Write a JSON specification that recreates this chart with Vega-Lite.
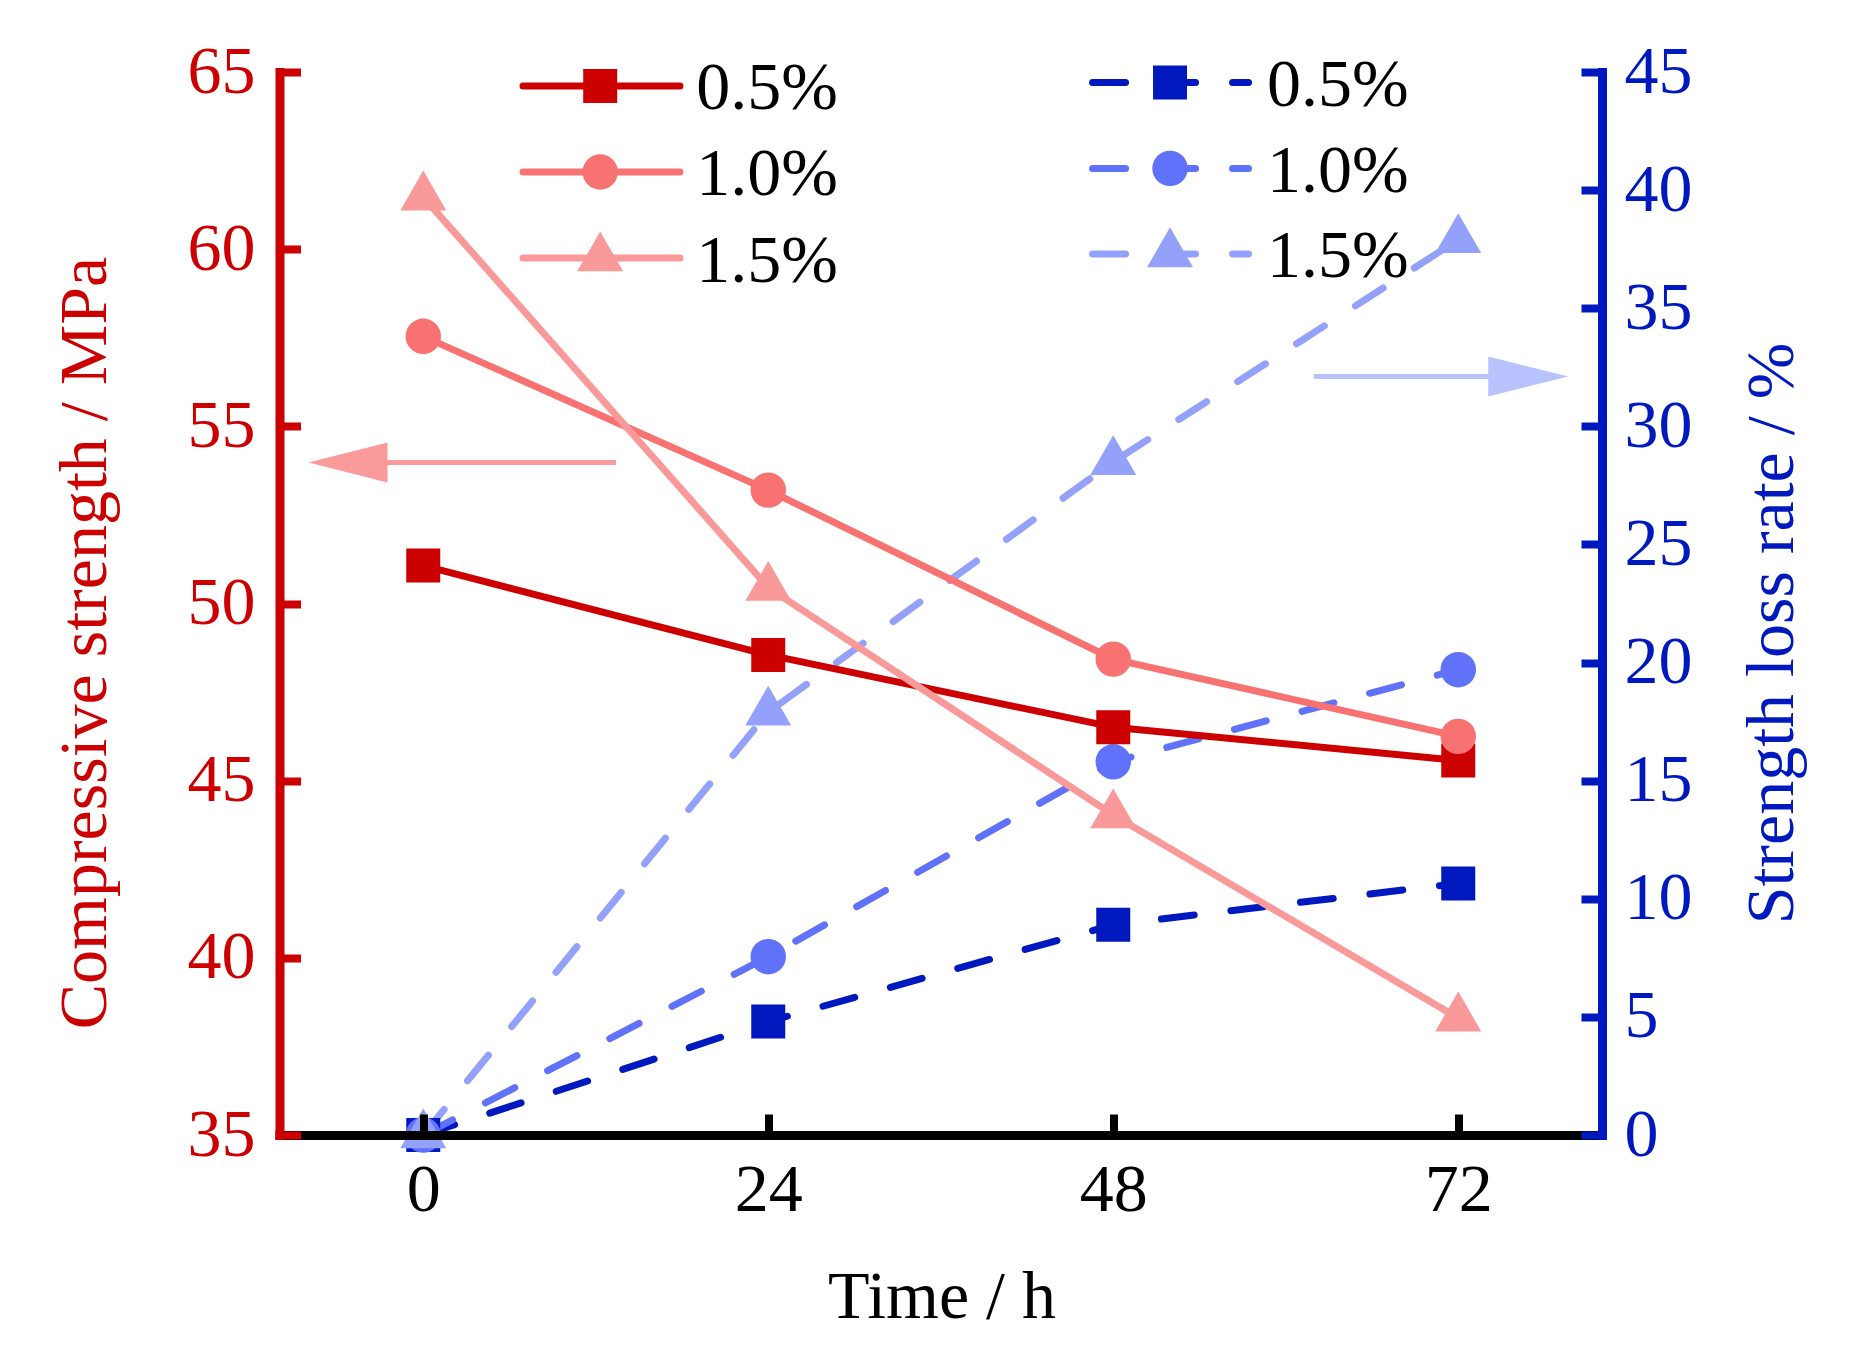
{
  "$schema": "https://vega.github.io/schema/vega-lite/v6.json",
  "width": 1322.5,
  "height": 1063,
  "autosize": {"type": "none"},
  "padding": {"left": 279.5, "top": 72, "right": 252, "bottom": 214},
  "background": "white",
  "config": {"view": {"stroke": null}, "font": "Liberation Serif"},
  "datasets": {
    "pts": [
      {"series": "S0.5", "kind": "S", "role": "data", "t": 0, "v": 51.07},
      {"series": "S0.5", "kind": "S", "role": "data", "t": 24, "v": 48.55},
      {"series": "S0.5", "kind": "S", "role": "data", "t": 48, "v": 46.51},
      {"series": "S0.5", "kind": "S", "role": "data", "t": 72, "v": 45.57},
      {"series": "S1.0", "kind": "S", "role": "data", "t": 0, "v": 57.54},
      {"series": "S1.0", "kind": "S", "role": "data", "t": 24, "v": 53.2},
      {"series": "S1.0", "kind": "S", "role": "data", "t": 48, "v": 48.43},
      {"series": "S1.0", "kind": "S", "role": "data", "t": 72, "v": 46.25},
      {"series": "S1.5", "kind": "S", "role": "data", "t": 0, "v": 61.47},
      {"series": "S1.5", "kind": "S", "role": "data", "t": 24, "v": 50.45},
      {"series": "S1.5", "kind": "S", "role": "data", "t": 48, "v": 44.03},
      {"series": "S1.5", "kind": "S", "role": "data", "t": 72, "v": 38.3},
      {"series": "L0.5", "kind": "L", "role": "data", "t": 0, "v": 0},
      {"series": "L0.5", "kind": "L", "role": "data", "t": 24, "v": 4.8},
      {"series": "L0.5", "kind": "L", "role": "data", "t": 48, "v": 8.9},
      {"series": "L0.5", "kind": "L", "role": "data", "t": 72, "v": 10.65},
      {"series": "L1.0", "kind": "L", "role": "data", "t": 0, "v": 0},
      {"series": "L1.0", "kind": "L", "role": "data", "t": 24, "v": 7.55},
      {"series": "L1.0", "kind": "L", "role": "data", "t": 48, "v": 15.8},
      {"series": "L1.0", "kind": "L", "role": "data", "t": 72, "v": 19.7},
      {"series": "L1.5", "kind": "L", "role": "data", "t": 0, "v": 0},
      {"series": "L1.5", "kind": "L", "role": "data", "t": 24, "v": 17.9},
      {"series": "L1.5", "kind": "L", "role": "data", "t": 48, "v": 28.5},
      {"series": "L1.5", "kind": "L", "role": "data", "t": 72, "v": 37.9},
      {"series": "S0.5", "kind": "S", "role": "legend", "t": 12.31, "v": 64.605},
      {"series": "S1.0", "kind": "S", "role": "legend", "t": 12.31, "v": 62.18},
      {"series": "S1.5", "kind": "S", "role": "legend", "t": 12.31, "v": 59.75},
      {"series": "L0.5", "kind": "L", "role": "legend", "t": 51.95, "v": 44.56},
      {"series": "L1.0", "kind": "L", "role": "legend", "t": 51.95, "v": 40.92},
      {"series": "L1.5", "kind": "L", "role": "legend", "t": 51.95, "v": 37.3}
    ],
    "leglines": [
      {"series": "S0.5", "kind": "S", "t": 6.94, "t2": 17.86, "v": 64.605},
      {"series": "S1.0", "kind": "S", "t": 6.94, "t2": 17.86, "v": 62.18},
      {"series": "S1.5", "kind": "S", "t": 6.94, "t2": 17.86, "v": 59.75},
      {"series": "L0.5", "kind": "L", "t": 46.56, "t2": 57.41, "v": 44.56},
      {"series": "L1.0", "kind": "L", "t": 46.56, "t2": 57.41, "v": 40.92},
      {"series": "L1.5", "kind": "L", "t": 46.56, "t2": 57.41, "v": 37.3}
    ],
    "legtext": [
      {"kind": "S", "label": "0.5%", "t": 18.99, "v": 64.605},
      {"kind": "S", "label": "1.0%", "t": 18.99, "v": 62.18},
      {"kind": "S", "label": "1.5%", "t": 18.99, "v": 59.75},
      {"kind": "L", "label": "0.5%", "t": 58.7, "v": 44.56},
      {"kind": "L", "label": "1.0%", "t": 58.7, "v": 40.92},
      {"kind": "L", "label": "1.5%", "t": 58.7, "v": 37.3}
    ],
    "arrows": [
      {"kind": "S", "t": 13.41, "t2": -5.2, "th": -5.235, "v": 53.98},
      {"kind": "L", "t": 61.95, "t2": 76.8, "th": 76.87, "v": 32.11}
    ]
  },
  "layer": [
    {
      "encoding": {
        "x": {
          "field": "t", "type": "quantitative",
          "scale": {"domain": [-10, 82], "nice": false, "zero": false},
          "axis": {
            "orient": "bottom", "values": [0, 24, 48, 72], "grid": false,
            "domainColor": "black", "domainWidth": 9, "domainCap": "square",
            "tickColor": "black", "tickWidth": 8, "tickSize": -21,
            "labelFont": "Liberation Serif", "labelFontSize": 68, "labelColor": "black",
            "labelPadding": 42.3, "labelFlush": false, "labelOverlap": false,
            "title": "Time / h", "titleFont": "Liberation Serif", "titleFontSize": 68,
            "titleFontWeight": "normal", "titleColor": "black",
            "titleX": 662, "titleY": 182, "titleAlign": "center", "titleBaseline": "alphabetic",
            "zindex": 1
          }
        },
        "y": {
          "field": "v", "type": "quantitative",
          "scale": {"domain": [0, 45], "nice": false, "zero": false},
          "axis": {
            "orient": "right", "values": [0, 5, 10, 15, 20, 25, 30, 35, 40, 45], "grid": false,
            "domainColor": "#0019BE", "domainWidth": 9, "domainCap": "square",
            "tickColor": "#0019BE", "tickWidth": 8, "tickSize": -21,
            "labelFont": "Liberation Serif", "labelFontSize": 68, "labelColor": "#0019BE",
            "labelPadding": 43, "labelFlush": false, "labelOverlap": false,
            "title": "Strength loss rate / %", "titleFont": "Liberation Serif", "titleFontSize": 68,
            "titleFontWeight": "normal", "titleColor": "#0019BE", "titleAngle": 270,
            "titleX": 190.7, "titleY": 561, "titleAlign": "center", "titleBaseline": "alphabetic",
            "zindex": 1
          }
        }
      },
      "layer": [
        {
          "data": {"name": "pts"},
          "transform": [{"filter": "datum.kind == 'L' && datum.role == 'data'"}],
          "mark": {"type": "line", "strokeWidth": 7, "strokeDash": [33, 37], "strokeCap": "round", "strokeJoin": "round"},
          "encoding": {
            "color": {"field": "series", "type": "nominal", "legend": null,
              "scale": {"domain": ["S0.5", "S1.0", "S1.5", "L0.5", "L1.0", "L1.5"], "range": ["#CC0000", "#F87272", "#FA9999", "#0019BE", "#6072FA", "#93A1FA"]}},
            "detail": {"field": "series"}
          }
        },
        {
          "data": {"name": "leglines"},
          "transform": [{"filter": "datum.kind == 'L'"}],
          "mark": {"type": "rule", "strokeWidth": 7, "strokeDash": [33, 37], "strokeCap": "round"},
          "encoding": {
            "x2": {"field": "t2"},
            "color": {"field": "series", "type": "nominal", "legend": null}
          }
        },
        {
          "data": {"name": "pts"},
          "transform": [{"filter": "datum.series == 'L0.5'"}],
          "mark": {"type": "point", "filled": true, "shape": "square", "size": 1156, "opacity": 1},
          "encoding": {"color": {"field": "series", "type": "nominal", "legend": null}}
        },
        {
          "data": {"name": "pts"},
          "transform": [{"filter": "datum.series == 'L1.0'"}],
          "mark": {"type": "point", "filled": true, "shape": "circle", "size": 1257, "opacity": 1},
          "encoding": {"color": {"field": "series", "type": "nominal", "legend": null}}
        },
        {
          "data": {"name": "pts"},
          "transform": [{"filter": "datum.series == 'L1.5'"}],
          "mark": {"type": "point", "filled": true, "shape": "triangle-up", "size": 2116, "opacity": 1, "yOffset": -6.6},
          "encoding": {"color": {"field": "series", "type": "nominal", "legend": null}}
        },
        {
          "data": {"name": "arrows"},
          "transform": [{"filter": "datum.kind == 'L'"}],
          "mark": {"type": "rule", "strokeWidth": 5, "color": "#B8C2FC"},
          "encoding": {"x2": {"field": "t2"}}
        },
        {
          "data": {"name": "arrows"},
          "transform": [{"filter": "datum.kind == 'L'"}],
          "mark": {"type": "point", "filled": true, "shape": "M1,0L-1,-0.5L-1,0.5Z", "size": 6400, "opacity": 1, "color": "#B8C2FC"},
          "encoding": {"x": {"field": "th", "type": "quantitative"}}
        },
        {
          "data": {"name": "legtext"},
          "transform": [{"filter": "datum.kind == 'L'"}],
          "mark": {"type": "text", "align": "left", "baseline": "middle", "dy": 3.5, "font": "Liberation Serif", "fontSize": 68, "color": "black"},
          "encoding": {"text": {"field": "label"}}
        }
      ]
    },
    {
      "encoding": {
        "x": {
          "field": "t", "type": "quantitative",
          "scale": {"domain": [-10, 82], "nice": false, "zero": false},
          "axis": {
            "orient": "bottom", "values": [0, 24, 48, 72], "grid": false,
            "domainColor": "black", "domainWidth": 9, "domainCap": "square",
            "tickColor": "black", "tickWidth": 8, "tickSize": -21,
            "labelFont": "Liberation Serif", "labelFontSize": 68, "labelColor": "black",
            "labelPadding": 42.3, "labelFlush": false, "labelOverlap": false,
            "title": "Time / h", "titleFont": "Liberation Serif", "titleFontSize": 68,
            "titleFontWeight": "normal", "titleColor": "black",
            "titleX": 662, "titleY": 182, "titleAlign": "center", "titleBaseline": "alphabetic",
            "zindex": 1
          }
        },
        "y": {
          "field": "v", "type": "quantitative",
          "scale": {"domain": [35, 65], "nice": false, "zero": false},
          "axis": {
            "orient": "left", "values": [35, 40, 45, 50, 55, 60, 65], "grid": false,
            "domainColor": "#CC0000", "domainWidth": 9, "domainCap": "square",
            "tickColor": "#CC0000", "tickWidth": 8, "tickSize": -21,
            "labelFont": "Liberation Serif", "labelFontSize": 68, "labelColor": "#CC0000",
            "labelPadding": 45.5, "labelFlush": false, "labelOverlap": false,
            "title": "Compressive strength / MPa", "titleFont": "Liberation Serif", "titleFontSize": 68,
            "titleFontWeight": "normal", "titleColor": "#CC0000", "titleAngle": 270,
            "titleX": -174.5, "titleY": 570.6, "titleAlign": "center", "titleBaseline": "alphabetic",
            "zindex": 1
          }
        }
      },
      "layer": [
        {
          "data": {"name": "pts"},
          "transform": [{"filter": "datum.kind == 'S' && datum.role == 'data'"}],
          "mark": {"type": "line", "strokeWidth": 7, "strokeJoin": "round"},
          "encoding": {
            "color": {"field": "series", "type": "nominal", "legend": null},
            "detail": {"field": "series"}
          }
        },
        {
          "data": {"name": "leglines"},
          "transform": [{"filter": "datum.kind == 'S'"}],
          "mark": {"type": "rule", "strokeWidth": 7, "strokeCap": "round"},
          "encoding": {
            "x2": {"field": "t2"},
            "color": {"field": "series", "type": "nominal", "legend": null}
          }
        },
        {
          "data": {"name": "arrows"},
          "transform": [{"filter": "datum.kind == 'S'"}],
          "mark": {"type": "rule", "strokeWidth": 5, "color": "#FA9A9A"},
          "encoding": {"x2": {"field": "t2"}}
        },
        {
          "data": {"name": "arrows"},
          "transform": [{"filter": "datum.kind == 'S'"}],
          "mark": {"type": "point", "filled": true, "shape": "M-1,0L1,-0.506L1,0.506Z", "size": 6241, "opacity": 1, "color": "#FA9A9A"},
          "encoding": {"x": {"field": "th", "type": "quantitative"}}
        },
        {
          "data": {"name": "pts"},
          "transform": [{"filter": "datum.series == 'S0.5'"}],
          "mark": {"type": "point", "filled": true, "shape": "square", "size": 1156, "opacity": 1},
          "encoding": {"color": {"field": "series", "type": "nominal", "legend": null}}
        },
        {
          "data": {"name": "pts"},
          "transform": [{"filter": "datum.series == 'S1.0'"}],
          "mark": {"type": "point", "filled": true, "shape": "circle", "size": 1257, "opacity": 1},
          "encoding": {"color": {"field": "series", "type": "nominal", "legend": null}}
        },
        {
          "data": {"name": "pts"},
          "transform": [{"filter": "datum.series == 'S1.5'"}],
          "mark": {"type": "point", "filled": true, "shape": "triangle-up", "size": 2116, "opacity": 1, "yOffset": -6.6},
          "encoding": {"color": {"field": "series", "type": "nominal", "legend": null}}
        },
        {
          "data": {"name": "legtext"},
          "transform": [{"filter": "datum.kind == 'S'"}],
          "mark": {"type": "text", "align": "left", "baseline": "middle", "dy": 3.5, "font": "Liberation Serif", "fontSize": 68, "color": "black"},
          "encoding": {"text": {"field": "label"}}
        }
      ]
    }
  ],
  "resolve": {"scale": {"y": "independent"}}
}
